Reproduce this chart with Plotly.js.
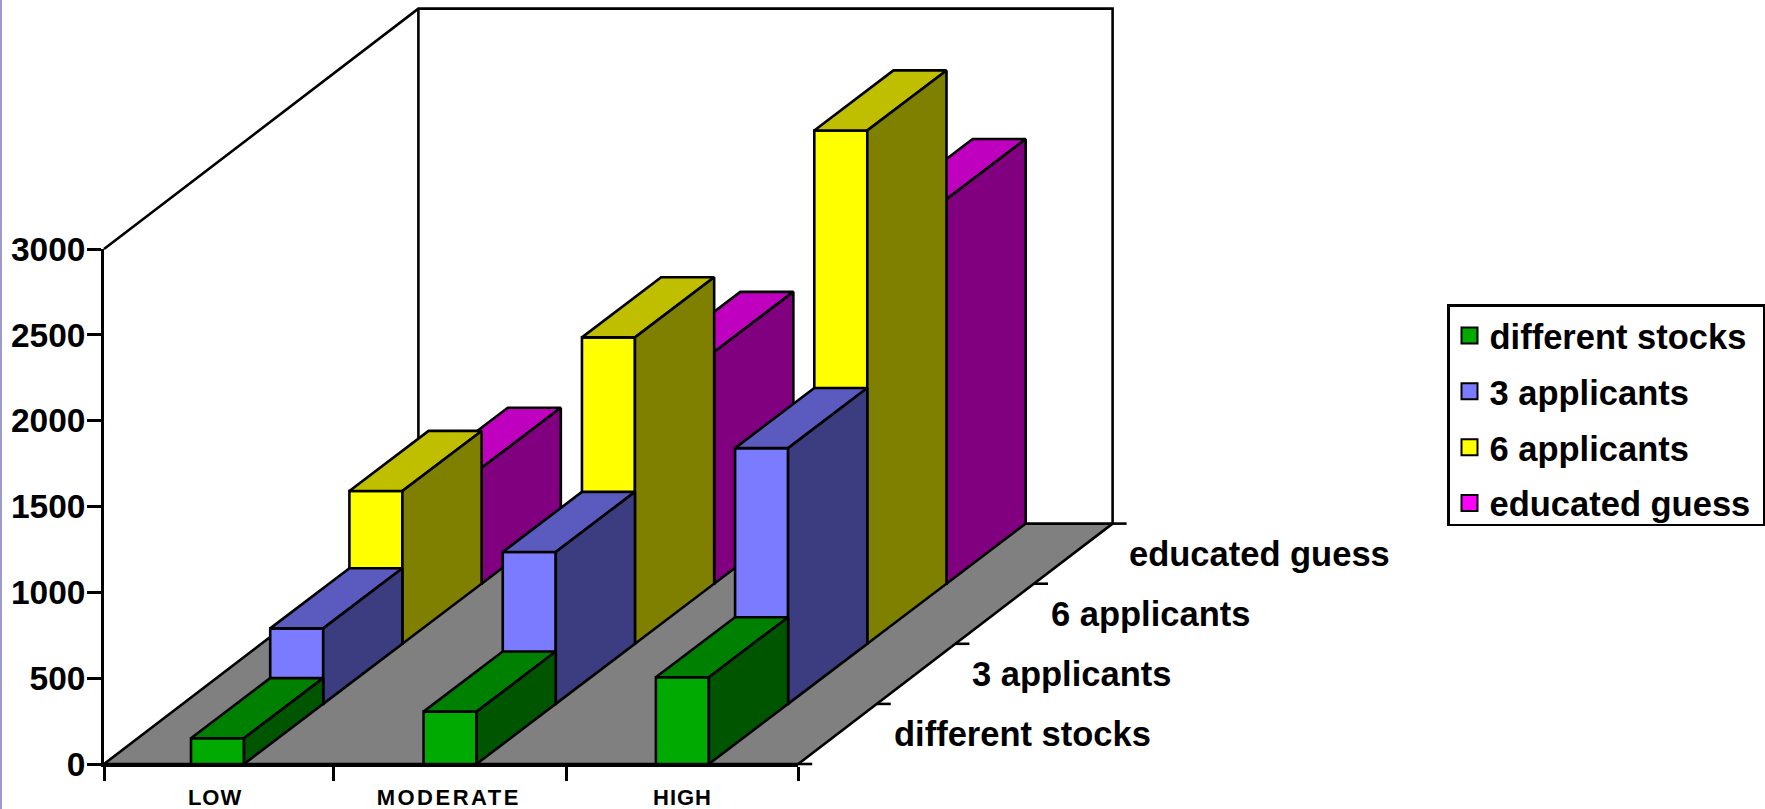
<!DOCTYPE html>
<html>
<head>
<meta charset="utf-8">
<script src="https://cdn.plot.ly/plotly-3.0.1.min.js"></script>
<style>
html, body { margin: 0; padding: 0; background: #fff; }
#chart { width: 1765px; height: 809px; }
.x2tick text { letter-spacing: 1px; }
.x2tick text[data-unformatted="MODERATE"] { letter-spacing: 2.5px; }
.legend .scrollbar { display: none; }
</style>
</head>
<body>
<div id="chart"></div>
<script>
// Oblique 3D column chart: applicants per difficulty level, one row per strategy.
const categories = ["LOW", "MODERATE", "HIGH"];
const seriesNames = ["different stocks", "3 applicants", "6 applicants", "educated guess"];
const differentStocks = [150, 305, 505];
const threeApplicants = [440, 885, 1490];
const sixApplicants = [890, 1785, 2990];
const educatedGuess = [675, 1350, 2240];
const valueTicks = [0, 500, 1000, 1500, 2000, 2500, 3000];

const seriesValues = [differentStocks, threeApplicants, sixApplicants, educatedGuess];

// Face colours per series: front, top, side.
const faceColors = [
  ["#00AA00", "#008000", "#005500"],
  ["#7B7BFF", "#5A5ABF", "#3C3C80"],
  ["#FFFF00", "#BFBF00", "#808000"],
  ["#FF00FF", "#BF00BF", "#800080"]
];

// Figure scale: pixels per category and per value unit.
const W = 1765, H = 809;
const originX = 104, originY = 764;
const pxPerCat = 231.4, pxPerValue = 515 / 3000;
const maxValue = 3000;

// Shear of one depth row, expressed in axis units.
const shearX = 78.6 / pxPerCat;
const shearY = 60.1 / pxPerValue;
const barShearX = 79.2 / pxPerCat;
const rows = seriesNames.length;
const barStarts = [0.376, 0.381, 0.385], barWidth = 53 / pxPerCat;
const edge = 2.6;

const X = (cat, depth) => cat + depth * shearX;
const Y = (val, depth) => val + depth * shearY;

function poly(pts, fill, sx) {
  const k = sx === undefined ? shearX : sx;
  const xs = pts.map(p => p[0] + p[1] * k);
  const ys = pts.map(p => Y(p[2], p[1]));
  xs.push(xs[0]); ys.push(ys[0]);
  return {
    x: xs, y: ys, mode: "lines", fill: "toself", fillcolor: fill,
    line: { color: "#000", width: edge, simplify: false },
    showlegend: false, hoverinfo: "skip"
  };
}

function path(pts) {
  return {
    x: pts.map(p => p === null ? null : X(p[0], p[1]) + (p[3] || 0)),
    y: pts.map(p => p === null ? null : Y(p[2], p[1])),
    mode: "lines", line: { color: "#000", width: edge, simplify: false },
    showlegend: false, hoverinfo: "skip"
  };
}

const nCat = categories.length;
const traces = [];

// Walls and floor.
traces.push(path([[0, 0, maxValue], [0, rows, maxValue], [nCat, rows, maxValue], [nCat, rows, 0]]));
traces.push(path([[0, rows, maxValue], [0, rows, 0]]));
traces.push(poly([[0, 0, 0], [nCat, 0, 0], [nCat, rows, 0], [0, rows, 0]], "#808080"));

// Depth axis ticks along the right floor edge.
const tickReach = 14 / pxPerCat;
const depthTicks = [];
for (let d = 0; d <= rows; d++) {
  depthTicks.push([nCat, d, 0, 0], [nCat, d, 0, tickReach], null);
}
traces.push(path(depthTicks));

// Columns, painted from the back row to the front row.
for (let d = rows - 1; d >= 0; d--) {
  for (let c = 0; c < nCat; c++) {
    const v = seriesValues[d][c];
    const a = c + barStarts[c], b = a + barWidth;
    const col = faceColors[d];
    traces.push(poly([[a, d, 0], [b, d, 0], [b, d, v], [a, d, v]], col[0], barShearX));
    traces.push(poly([[a, d, v], [b, d, v], [b, d + 1, v], [a, d + 1, v]], col[1], barShearX));
    traces.push(poly([[b, d, 0], [b, d + 1, 0], [b, d + 1, v], [b, d, v]], col[2], barShearX));
  }
}

// Legend entries live on the visible axis pair.
seriesNames.forEach((name, i) => {
  traces.push({
    x: [null], y: [null], xaxis: "x2", yaxis: "y2", name: name,
    mode: "markers", legendgroup: name, hoverinfo: "skip",
    marker: { symbol: "square", size: 16, color: faceColors[i][0], line: { color: "#000", width: 2 } }
  });
});

// Row labels to the right of the floor.
const labelFamily = "Liberation Sans, Arial, sans-serif";
const annotations = seriesNames.map((name, d) => ({
  text: "<b>" + name + "</b>",
  x: X(nCat, d + 0.5) + 54 / pxPerCat, y: Y(0, d + 0.5),
  xref: "x", yref: "y", xanchor: "left", yanchor: "middle",
  showarrow: false, font: { family: labelFamily, size: 34.5, color: "#000" }
}));

const layout = {
  width: W, height: H,
  margin: { l: 0, r: 0, t: 0, b: 0 },
  paper_bgcolor: "#fff", plot_bgcolor: "rgba(0,0,0,0)",
  showlegend: true,
  hovermode: false,
  xaxis: {
    visible: false, fixedrange: true,
    range: [-originX / pxPerCat, (W - originX) / pxPerCat]
  },
  yaxis: {
    visible: false, fixedrange: true,
    range: [(originY - H) / pxPerValue, originY / pxPerValue]
  },
  xaxis2: {
    anchor: "y2", fixedrange: true,
    domain: [originX / W, (originX + nCat * pxPerCat) / W],
    range: [0, nCat],
    showgrid: false, zeroline: false, showline: true, linecolor: "#000", linewidth: 3,
    tickmode: "array", tickvals: [0.48, 1.49, 2.5], ticktext: categories,
    ticks: "", ticklen: 0,
    tickfont: { family: labelFamily, size: 22, color: "#000", weight: 700 },
    ticklabelstandoff: 12,
    minor: { tickmode: "array", tickvals: [0, 0.99, 2, 3], ticks: "outside", ticklen: 14, tickwidth: edge, tickcolor: "#000", showgrid: false }
  },
  yaxis2: {
    anchor: "x2", fixedrange: true,
    domain: [(H - originY) / H, (H - originY + maxValue * pxPerValue) / H],
    range: [0, maxValue],
    showgrid: false, zeroline: false, showline: true, linecolor: "#000", linewidth: edge,
    tickmode: "array", tickvals: valueTicks, ticktext: valueTicks.map(String),
    ticks: "outside", ticklen: 14, tickwidth: edge, tickcolor: "#000",
    tickfont: { family: labelFamily, size: 33.5, color: "#000", weight: 700 },
    ticklabelstandoff: -5
  },
  legend: {
    x: 1447 / W, y: 1 - 304 / H, xanchor: "left", yanchor: "top",
    bordercolor: "#000", borderwidth: 2.5, bgcolor: "#fff",
    font: { family: labelFamily, size: 34.5, color: "#000", weight: 700 },
    tracegroupgap: 8, traceorder: "grouped", itemclick: false, itemdoubleclick: false,
    entrywidth: 266, entrywidthmode: "pixels",
    maxheight: 222
  },
  annotations: annotations,
  // Thin tinted strip along the page's left edge.
  shapes: [{
    type: "rect", xref: "paper", yref: "paper", layer: "below",
    x0: 0, x1: 2 / W, y0: 0, y1: 1,
    fillcolor: "#9C9CC8", line: { width: 0 }
  }]
};

Plotly.newPlot("chart", traces, layout, { displayModeBar: false });
</script>
</body>
</html>
